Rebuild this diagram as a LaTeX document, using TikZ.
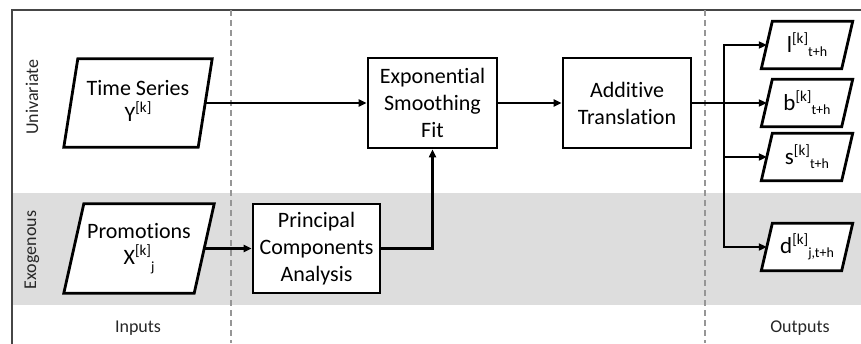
\documentclass[tikz,border=0pt]{standalone}
\usepackage{fontspec}
\setmainfont{Carlito}[Ligatures=NoCommon]
\usetikzlibrary{arrows.meta,calc}

% base letter with a raised [k] and a lowered index after it
\newcommand{\supsub}[3]{#1{\fontsize{15}{15}\selectfont\raisebox{9pt}{#2}}{\fontsize{14}{14}\selectfont\raisebox{-4pt}{#3}}}
% slanted outline round a named node
\newcommand{\slantbox}[2]{%
  \draw[boxline] ($(#1.south west)+(-#2,0)$) -- ($(#1.north west)+(#2,0)$) --
    ($(#1.north east)+(#2,0)$) -- ($(#1.south east)+(-#2,0)$) -- cycle;}

\definecolor{band}{RGB}{221,221,221}
\definecolor{frame}{RGB}{70,70,70}
\definecolor{divider}{RGB}{150,150,150}

\tikzset{
  boxline/.style={line width=2.8pt, line join=miter, fill=white},
  procbox/.style={draw, line width=2.8pt, fill=white, inner sep=0pt, align=center,
    font=\fontsize{22}{27}\selectfont},
  databox/.style={inner sep=0pt, align=center, font=\fontsize{22}{26}\selectfont},
  outbox/.style={inner sep=0pt, align=center, font=\fontsize{23}{26}\selectfont,
    minimum width=80pt, minimum height=47pt},
  wire/.style={line width=2.3pt},
  conn/.style={wire, -{Triangle[length=8pt,width=7pt]}},
  rowlabel/.style={font=\fontsize{18}{20}\selectfont, text=black!85},
}

\begin{document}
\begin{tikzpicture}[x=1pt,y=-1pt]
\useasboundingbox (0,0) rectangle (861,343);

% rows and columns
\fill[band] (12,193) rectangle (870,305);
\draw[frame, line width=1.2pt] (12,360) -- (12,10) -- (870,10);
\draw[divider, line width=1.3pt, dash pattern=on 6pt off 4pt] (231,10) -- (231,343);
\draw[divider, line width=1.3pt, dash pattern=on 6pt off 4pt] (705,10) -- (705,343);

\node[rowlabel, rotate=90] (uni) at (32,97) {Univariate};
\node[rowlabel, rotate=90] (exo) at (32,250) {Exogenous};
\node[rowlabel] (inp) at (138,328) {Inputs};
\node[rowlabel] (outp) at (800,328) {Outputs};

% inputs
\node[databox, minimum width=134pt, minimum height=88pt] (ts) at (138,103) {};
\slantbox{ts}{7}
\node[databox] at (ts) {Time Series\\\supsub{Y}{[k]}{}};

\node[databox, minimum width=130pt, minimum height=89pt] (promo) at (139,248.5) {};
\slantbox{promo}{10}
\node[databox] at (promo) {Promotions\\\supsub{X}{[k]}{\raisebox{-3pt}{j}}};

% processing
\node[procbox, minimum width=129pt, minimum height=90pt] (es) at (432.5,103) {Exponential\\Smoothing\\Fit};
\node[procbox, minimum width=128pt, minimum height=90pt] (add) at (627,103) {Additive\\Translation};
\node[procbox, minimum width=127pt, minimum height=89pt] (pca) at (316.5,248.5) {Principal\\Components\\Analysis};

% outputs
\node[outbox] (l) at (807,45) {};
\node[outbox] (b) at (807,103) {};
\node[outbox] (s) at (807,157) {};
\node[outbox] (d) at (807,247) {};
\slantbox{l}{5.5}
\slantbox{b}{5.5}
\slantbox{s}{5.5}
\slantbox{d}{5.5}
\node[outbox] at (l) {\supsub{l}{[k]}{t+h}};
\node[outbox] at (b) {\supsub{b}{[k]}{t+h}};
\node[outbox] at (s) {\supsub{s}{[k]}{t+h}};
\node[outbox] at (d) {\supsub{d}{[k]}{j,t+h}};

% connectors
\coordinate (br) at (724,103);
\draw[conn] (ts) -- (es);
\draw[conn] (promo) -- (pca);
\draw[conn] (pca) -| (es);
\draw[conn] (es) -- (add);
\draw[conn] (add) -- (b);
\draw[wire, line cap=rect] (br |- l) -- (br |- d);
\draw[conn] (br |- l) -- (l);
\draw[conn] (br |- s) -- (s);
\draw[conn] (br |- d) -- (d);
\end{tikzpicture}
\end{document}
